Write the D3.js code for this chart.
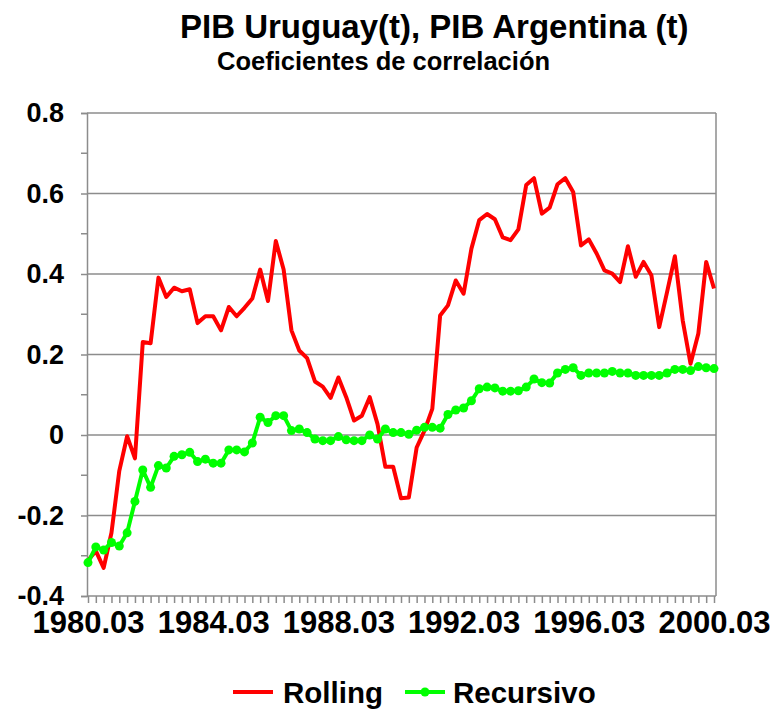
<!DOCTYPE html>
<html>
<head>
<meta charset="utf-8">
<script src="https://cdn.jsdelivr.net/npm/d3@7"></script>
<style>
  html, body { margin: 0; padding: 0; background: #ffffff; }
  svg { display: block; font-family: "Liberation Sans", Arial, sans-serif; }
</style>
</head>
<body>
<svg id="chart" width="772" height="711"></svg>
<script>
// ---- Data ----
const years = d3.range(1980, 2001);
const months = ["03", "06", "09", "12"];
const categories = years.flatMap(y => months.map(m => y + "." + m)).slice(0, 81); // 1980.03 .. 2000.03

const rolling = [
  -0.312, -0.288, -0.330, -0.243, -0.089, -0.003, -0.058, 0.231, 0.228, 0.391,
  0.343, 0.366, 0.357, 0.362, 0.278, 0.295, 0.295, 0.260, 0.318, 0.295,
  0.316, 0.339, 0.411, 0.333, 0.482, 0.411, 0.260, 0.210, 0.191, 0.133,
  0.120, 0.092, 0.143, 0.094, 0.036, 0.048, 0.094, 0.027, -0.079, -0.079,
  -0.157, -0.155, -0.031, 0.011, 0.065, 0.297, 0.322, 0.384, 0.351, 0.463,
  0.534, 0.549, 0.536, 0.491, 0.484, 0.511, 0.621, 0.638, 0.550, 0.565,
  0.623, 0.638, 0.604, 0.471, 0.486, 0.451, 0.409, 0.401, 0.380, 0.469,
  0.393, 0.430, 0.397, 0.268, 0.355, 0.444, 0.285, 0.177, 0.252, 0.430,
  0.364
];

const recursivo = [
  -0.317, -0.278, -0.286, -0.267, -0.276, -0.243, -0.165, -0.087, -0.130, -0.076,
  -0.082, -0.053, -0.049, -0.043, -0.066, -0.060, -0.070, -0.070, -0.037, -0.037,
  -0.042, -0.020, 0.044, 0.031, 0.048, 0.048, 0.011, 0.015, 0.006, -0.010,
  -0.014, -0.014, -0.004, -0.012, -0.014, -0.014, 0.000, -0.010, 0.015, 0.006,
  0.006, 0.002, 0.012, 0.019, 0.019, 0.017, 0.051, 0.062, 0.067, 0.085,
  0.115, 0.119, 0.117, 0.109, 0.109, 0.110, 0.119, 0.139, 0.130, 0.129,
  0.154, 0.163, 0.167, 0.148, 0.154, 0.154, 0.154, 0.158, 0.154, 0.154,
  0.148, 0.148, 0.148, 0.148, 0.154, 0.163, 0.163, 0.160, 0.170, 0.167,
  0.165
];

const xTickLabels = ["1980.03", "1984.03", "1988.03", "1992.03", "1996.03", "2000.03"];
const yTicks = [-0.4, -0.2, 0, 0.2, 0.4, 0.6, 0.8];
const yTickLabels = ["-0.4", "-0.2", "0", "0.2", "0.4", "0.6", "0.8"];
const yMinorTicks = [-0.3, -0.1, 0.1, 0.3, 0.5, 0.7];
const seriesNames = ["Rolling", "Recursivo"];
const title = "PIB Uruguay(t), PIB Argentina (t)";
const subtitle = "Coeficientes de correlación";

// ---- Layout ----
const svg = d3.select("#chart");
const plot = { left: 87, right: 716, top: 113, bottom: 596 };
const gridColor = "#8c8c8c";
const red = "#ff0000", green = "#00ff00";

const x = d3.scalePoint().domain(categories).range([plot.left + 1, plot.right - 2]);
const y = d3.scaleLinear().domain([-0.4, 0.8]).range([plot.bottom, plot.top]);

// Titles
svg.append("text").attr("x", 180).attr("y", 38)
  .attr("font-size", 33).attr("font-weight", "bold").attr("fill", "#000")
  .text(title);
svg.append("text").attr("x", 217).attr("y", 70)
  .attr("font-size", 25.5).attr("font-weight", "bold").attr("fill", "#000")
  .text(subtitle);

// Gridlines
svg.append("g").selectAll("line").data(yTicks.filter(d => d > -0.4)).join("line")
  .attr("x1", plot.left).attr("x2", plot.right)
  .attr("y1", d => y(d)).attr("y2", d => y(d))
  .attr("stroke", gridColor).attr("stroke-width", 1.5);

// Right border
svg.append("line").attr("x1", plot.right).attr("x2", plot.right)
  .attr("y1", plot.top).attr("y2", plot.bottom)
  .attr("stroke", gridColor).attr("stroke-width", 1.5);

// Minor y ticks
svg.append("g").selectAll("line").data(yMinorTicks).join("line")
  .attr("x1", plot.left - 6).attr("x2", plot.left)
  .attr("y1", d => y(d)).attr("y2", d => y(d))
  .attr("stroke", gridColor).attr("stroke-width", 1.5);

// Y axis
const yAxis = d3.axisLeft(y).tickValues(yTicks)
  .tickFormat((d, i) => yTickLabels[i]).tickSize(6).tickPadding(17);
const gy = svg.append("g").attr("transform", `translate(${plot.left},0)`).call(yAxis);
gy.select(".domain").attr("stroke", gridColor).attr("stroke-width", 1.5);
gy.selectAll(".tick line").attr("stroke", gridColor).attr("stroke-width", 1.5);
gy.selectAll(".tick text").attr("font-size", 27).attr("font-weight", "bold")
  .attr("fill", "#000").attr("font-family", "Liberation Sans, Arial, sans-serif");

// X axis
const xAxis = d3.axisBottom(x).tickValues(categories)
  .tickFormat(d => xTickLabels.includes(d) ? d : "").tickSize(7).tickPadding(8);
const gx = svg.append("g").attr("transform", `translate(0,${plot.bottom})`).call(xAxis);
gx.select(".domain").attr("stroke", gridColor).attr("stroke-width", 1.5)
  .attr("d", `M${plot.left},0H${plot.right}`);
gx.selectAll(".tick line").attr("stroke", gridColor).attr("stroke-width", 1.5);
gx.selectAll(".tick text").attr("font-size", 31).attr("font-weight", "bold")
  .attr("fill", "#000").attr("font-family", "Liberation Sans, Arial, sans-serif");

// Lines
const line = d3.line().x((d, i) => x(categories[i])).y(d => y(d));

svg.append("path").datum(rolling)
  .attr("d", line).attr("fill", "none")
  .attr("stroke", red).attr("stroke-width", 4).attr("stroke-linejoin", "round");

svg.append("path").datum(recursivo)
  .attr("d", line).attr("fill", "none")
  .attr("stroke", green).attr("stroke-width", 4).attr("stroke-linejoin", "round");

svg.append("g").selectAll("circle").data(recursivo).join("circle")
  .attr("cx", (d, i) => x(categories[i])).attr("cy", d => y(d))
  .attr("r", 4.5).attr("fill", green);

// Legend
const leg = svg.append("g");
leg.append("line").attr("x1", 233).attr("x2", 273).attr("y1", 692).attr("y2", 692)
  .attr("stroke", red).attr("stroke-width", 4);
leg.append("text").attr("x", 283).attr("y", 703)
  .attr("font-size", 29.5).attr("font-weight", "bold").text(seriesNames[0]);
leg.append("line").attr("x1", 405).attr("x2", 445).attr("y1", 692).attr("y2", 692)
  .attr("stroke", green).attr("stroke-width", 4);
leg.append("circle").attr("cx", 425).attr("cy", 692).attr("r", 4.5).attr("fill", green);
leg.append("text").attr("x", 453).attr("y", 703)
  .attr("font-size", 29.5).attr("font-weight", "bold").text(seriesNames[1]);
</script>
</body>
</html>
